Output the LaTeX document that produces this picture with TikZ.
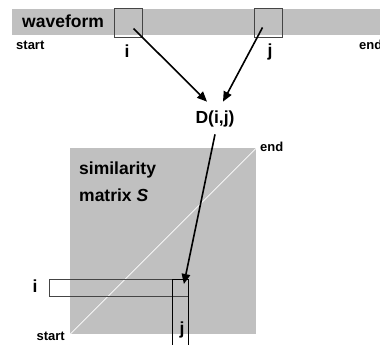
\documentclass[tikz,border=0pt]{standalone}
\usepackage{fontspec}
\setmainfont{Liberation Sans}
\usetikzlibrary{arrows.meta}
\definecolor{panelgray}{HTML}{C0C0C0}
\definecolor{edgegray}{HTML}{454545}
\tikzset{
    biglabel/.style={font=\fontsize{17.5}{27}\selectfont\bfseries, inner sep=0pt},
    smalllabel/.style={font=\fontsize{13}{15}\selectfont\bfseries, inner sep=0pt},
    window/.style={draw=edgegray, line width=1pt, inner sep=0pt, anchor=north west},
    link/.style={-{Triangle[length=10pt,width=8.5pt]}, line width=1.6pt},
}
\begin{document}
\begin{tikzpicture}[x=1pt, y=-1pt]
    \clip (0,0) rectangle (380,345);

    % Waveform strip
    \fill[panelgray] (12,9) rectangle (380,35);
    \node[biglabel, anchor=west] (wave) at (22,21) {waveform};
    \node[smalllabel, anchor=west] (wstart) at (16,45) {start};
    \node[smalllabel, anchor=west] (wend) at (359,45) {end};

    % Analysis windows
    \node[window, minimum width=28pt, minimum height=29pt] (wini) at (114,8) {};
    \node[window, minimum width=28pt, minimum height=29pt] (winj) at (254,8) {};
    \node[biglabel] (labi) at (127,51) {i};
    \node[biglabel] (labj) at (270,52) {j};

    % Distance
    \node[biglabel] (dist) at (215,119) {D(i,j)};
    \draw[link] ([shift={(5,5.5)}]wini.center) -- ([shift={(-8,-9)}]dist.north);
    \draw[link] ([shift={(-6,4.5)}]winj.center) -- ([shift={(8,-9)}]dist.north);

    % Similarity matrix
    \node[fill=panelgray, minimum size=186pt, inner sep=0pt, anchor=north west] (simmat) at (70,148) {};
    \draw[white, line width=0.8pt] (simmat.south west) -- (simmat.north east);
    \node[biglabel, anchor=west, align=left] (simtext) at (79,182) {similarity\\matrix \textit{S}};
    \node[smalllabel, anchor=west] (mend) at (260,147) {end};
    \node[smalllabel, anchor=east] (mstart) at (65,336) {start};

    % Row i and column j
    \node[window, draw=edgegray, line width=1.4pt, minimum width=139pt, minimum height=17pt] (rowi) at (49,279) {};
    \node[window, draw=black, line width=0.9pt, minimum width=16pt, minimum height=80pt] (colj) at (172,279) {};
    \node[biglabel] (rlabi) at (35,286) {i};
    \node[biglabel] (clabj) at (182,330) {j};
    \draw[link] ([shift={(0,7)}]dist.south) -- ([shift={(-5,5)}]colj.north east);
\end{tikzpicture}
\end{document}
